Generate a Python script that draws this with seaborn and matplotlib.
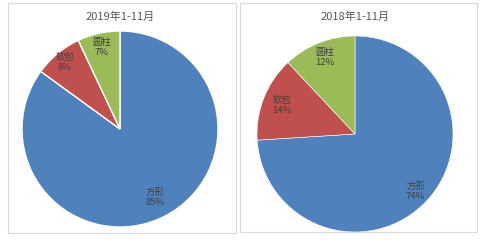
import numpy as np
import matplotlib
matplotlib.use("Agg")
import matplotlib.pyplot as plt
from matplotlib.patches import Rectangle
import seaborn as sns

categories = ["方形", "软包", "圆柱"]
values_2019 = [85, 8, 7]
values_2018 = [74, 14, 12]
titles = ["2019年1-11月", "2018年1-11月"]
colors = ["#4F81BD", "#C0504D", "#9BBB59"]

sns.set_theme(style="white")
plt.rcParams['font.family'] = ['Noto Sans CJK SC', 'DejaVu Sans']

fig = plt.figure(figsize=(4.8, 2.45), dpi=100)
fig.patch.set_facecolor("white")

# panel frames
fig.patches.append(Rectangle((8/480, 12/245), 228/480, 230/245, transform=fig.transFigure,
                             fill=False, edgecolor="#D9D9D9", linewidth=0.8))
fig.patches.append(Rectangle((240/480, 13/245), 237/480, 229/245, transform=fig.transFigure,
                             fill=False, edgecolor="#D9D9D9", linewidth=0.8))

axes_specs = [
    (values_2019, titles[0], [22/480, 18/245, 196/480, 196/245], 1.0, [0.78, 0.88, 0.85], 120),
    (values_2018, titles[1], [257/480, 13/245, 196/480, 196/245], 0.4, [0.85, 0.80, 0.84], 355),
]

for vals, title, rect, lw, rfrac, cx in axes_specs:
    ax = fig.add_axes(rect)
    wedges, _ = ax.pie(vals, colors=colors, startangle=90, counterclock=False,
                       wedgeprops=dict(edgecolor="white", linewidth=lw))
    for w, cat, v, rf in zip(wedges, categories, vals, rfrac):
        mid = np.deg2rad((w.theta1 + w.theta2) / 2)
        ax.text(rf * np.cos(mid), rf * np.sin(mid), f"{cat}\n{v}%", ha="center", va="center",
                fontsize=6.8, color="#404040", linespacing=1.2)
    ax.set_xlim(-1, 1)
    ax.set_ylim(-1, 1)
    ax.set_aspect("equal")
    ax.axis("off")
    fig.text(cx/480, 1 - 17/245, title, ha="center", va="center", fontsize=8, color="#595959")

fig.savefig("out.png", dpi=100, facecolor="white")
